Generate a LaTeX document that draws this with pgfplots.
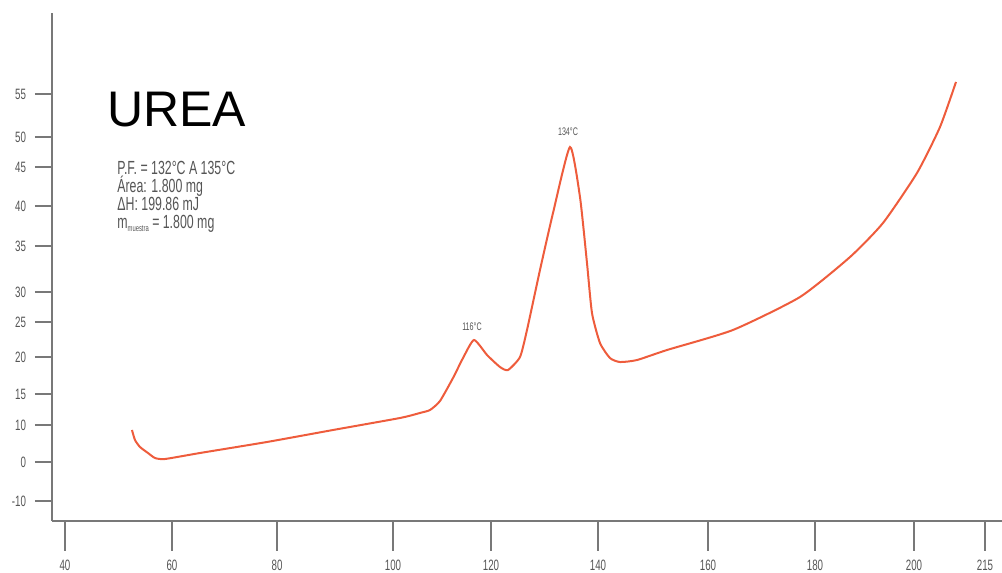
\documentclass[border=0pt]{standalone}
\usepackage{pgfplots}
\pgfplotsset{compat=1.18}
\usepackage{pgfplotstable}
\usepackage{fontspec}
\setmainfont{Liberation Sans}
\newfontfamily\narrow[FakeStretch=0.65]{Liberation Sans}

\definecolor{curve}{RGB}{238,92,60}
\definecolor{axisgray}{RGB}{120,120,120}
\definecolor{textgray}{RGB}{85,85,85}

% The printed scales are not uniform: each interval between two marked
% values has its own length on the paper.  These piecewise-linear maps send
% a temperature (degC) and a signal value to their place on the drawing.
\pgfmathdeclarefunction{xpx}{1}{%
  \begingroup
  \pgfmathparse{65+5.35*(min(#1,60)-40)
    +5.25*(max(min(#1,80),60)-60)
    +5.8*(max(min(#1,100),80)-80)
    +5.0625*(max(min(#1,116),100)-100)
    +4.25*(max(min(#1,120),116)-116)
    +5.642857*(max(min(#1,134),120)-120)
    +4.666667*(max(min(#1,140),134)-134)
    +5.5*(max(min(#1,160),140)-140)
    +5.35*(max(min(#1,180),160)-160)
    +4.95*(max(min(#1,200),180)-180)
    +4.733333*(max(#1,200)-200)}%
  \pgfmathsmuggle\pgfmathresult
  \endgroup}
\pgfmathdeclarefunction{ypx}{1}{%
  \begingroup
  \pgfmathparse{20+3.9*(min(#1,0)+10)
    +3.7*max(min(#1,10),0)
    +6.2*(max(min(#1,15),10)-10)
    +7.4*(max(min(#1,20),15)-15)
    +7.0*(max(min(#1,25),20)-20)
    +6.0*(max(min(#1,30),25)-25)
    +9.2*(max(min(#1,35),30)-30)
    +8.0*(max(min(#1,40),35)-35)
    +7.8*(max(min(#1,45),40)-40)
    +6.0*(max(min(#1,50),45)-45)
    +8.6*(max(#1,50)-50)}%
  \pgfmathsmuggle\pgfmathresult
  \endgroup}

% DSC trace of urea: temperature (degC) and signal
\pgfplotstableread{
T      Q
52.52  8.65
53.08  5.95
54.02  4.05
55.51  2.43
56.82  1.08
58.69  0.81
65.33  2.43
78.10  5.41
89.66  8.65
101.38 11.13
105.33 11.94
107.31 12.42
109.28 13.87
111.85 17.16
113.83 19.86
116.00 22.43
119.06 20.29
121.59 18.65
123.01 18.24
125.14 20.00
126.38 23.86
128.68 32.39
130.99 39.13
134.00 48.33
136.14 41.15
137.64 33.15
138.71 26.50
140.36 22.00
142.18 19.86
144.00 19.32
147.09 19.59
152.55 21.00
164.67 23.86
177.20 29.17
187.07 33.80
193.74 37.88
200.63 44.23
205.49 51.16
208.87 56.40
}\ureadata

\pgfplotsset{
  frame/.style={
    at={(26pt,0pt)}, anchor=south west,
    x=0.5pt, y=0.5pt,
    xmin=52, xmax=1002, ymin=0, ymax=508,
    axis line style={-, draw=axisgray, line width=1pt},
    tick align=outside,
    tick style={draw=axisgray, line width=0.7pt},
    ticklabel style={font=\narrow\fontsize{7.5}{8}\selectfont, text=textgray},
    clip=false,
  }
}

\begin{document}
\begin{tikzpicture}
\path[use as bounding box] (0,-26pt) rectangle (501pt,260.5pt);

% temperature axis
\begin{axis}[frame,
  axis x line*=bottom, axis y line=none,
  major tick length=15pt,
  xtick={65,172,277,393,491,598,708,815,914,985},
  xticklabels={40,60,80,100,120,140,160,180,200,215},
  xticklabel style={yshift=-1pt},
]
\end{axis}

% signal axis and curve
\begin{axis}[frame,
  axis y line*=left, axis x line=none,
  major tick length=8.5pt,
  ytick={20,59,96,127,164,199,229,275,315,354,384,427},
  yticklabels={-10,0,10,15,20,25,30,35,40,45,50,55},
  yticklabel style={xshift=-1pt},
]
\addplot[curve, line width=1pt, smooth, tension=0.35]
  table[x expr={xpx(\thisrow{T})}, y expr={ypx(\thisrow{Q})}] {\ureadata};

\node[anchor=base, text=textgray, font=\narrow\fontsize{5.5}{6}\selectfont]
  at (axis cs:568,385) {134°C};
\node[anchor=base, text=textgray, font=\narrow\fontsize{5.5}{6}\selectfont]
  at (axis cs:472,190) {116°C};

\node[anchor=base west, inner sep=0pt, font=\fontsize{25}{25}\selectfont]
  at (axis cs:107,394) {UREA};

\node[anchor=base west, inner sep=0pt, align=left, text=textgray,
      font=\narrow\fontsize{9.5}{9}\selectfont]
  at (axis cs:117,292)
  {P.F. = 132°C A 135°C\\
   Área: 1.800 mg\\
   ΔH: 199.86 mJ\\
   m\raisebox{-1.5pt}{\fontsize{4.5}{5}\selectfont muestra} = 1.800 mg};
\end{axis}
\end{tikzpicture}
\end{document}
